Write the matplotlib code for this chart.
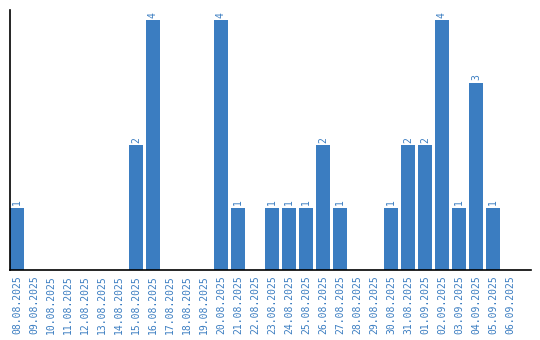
import matplotlib
matplotlib.use("Agg")
import matplotlib.pyplot as plt

dates = [
    "08.08.2025", "09.08.2025", "10.08.2025", "11.08.2025", "12.08.2025",
    "13.08.2025", "14.08.2025", "15.08.2025", "16.08.2025", "17.08.2025",
    "18.08.2025", "19.08.2025", "20.08.2025", "21.08.2025", "22.08.2025",
    "23.08.2025", "24.08.2025", "25.08.2025", "26.08.2025", "27.08.2025",
    "28.08.2025", "29.08.2025", "30.08.2025", "31.08.2025", "01.09.2025",
    "02.09.2025", "03.09.2025", "04.09.2025", "05.09.2025", "06.09.2025",
]
counts = [1, 0, 0, 0, 0, 0, 0, 2, 4, 0,
          0, 0, 4, 1, 0, 1, 1, 1, 2, 1,
          0, 0, 1, 2, 2, 4, 1, 3, 1, 0]

blue = "#3b7dc1"

fig = plt.figure(figsize=(5.4, 3.4), dpi=100)
ax = fig.add_axes([10 / 540, 70 / 340, 521 / 540, 260 / 340])

x = list(range(len(dates)))
ax.bar(x, counts, width=0.82, color=blue)

for i, v in zip(x, counts):
    if v > 0:
        ax.text(i, v + 0.04, str(v), rotation=90, ha="center", va="bottom",
                color=blue, fontsize=7, family="DejaVu Sans Mono")

ax.set_xlim(-0.41, 30.24)
ax.set_ylim(0, 4.16)
ax.set_xticks(x)
ax.set_xticklabels(dates, rotation=90, color=blue, fontsize=7,
                   family="DejaVu Sans Mono")
ax.set_yticks([])
ax.tick_params(axis="x", length=0, pad=4)
for s in ["top", "right"]:
    ax.spines[s].set_visible(False)
ax.spines["left"].set_linewidth(1.2)
ax.spines["bottom"].set_linewidth(1.2)

fig.savefig("out.png", dpi=100)
